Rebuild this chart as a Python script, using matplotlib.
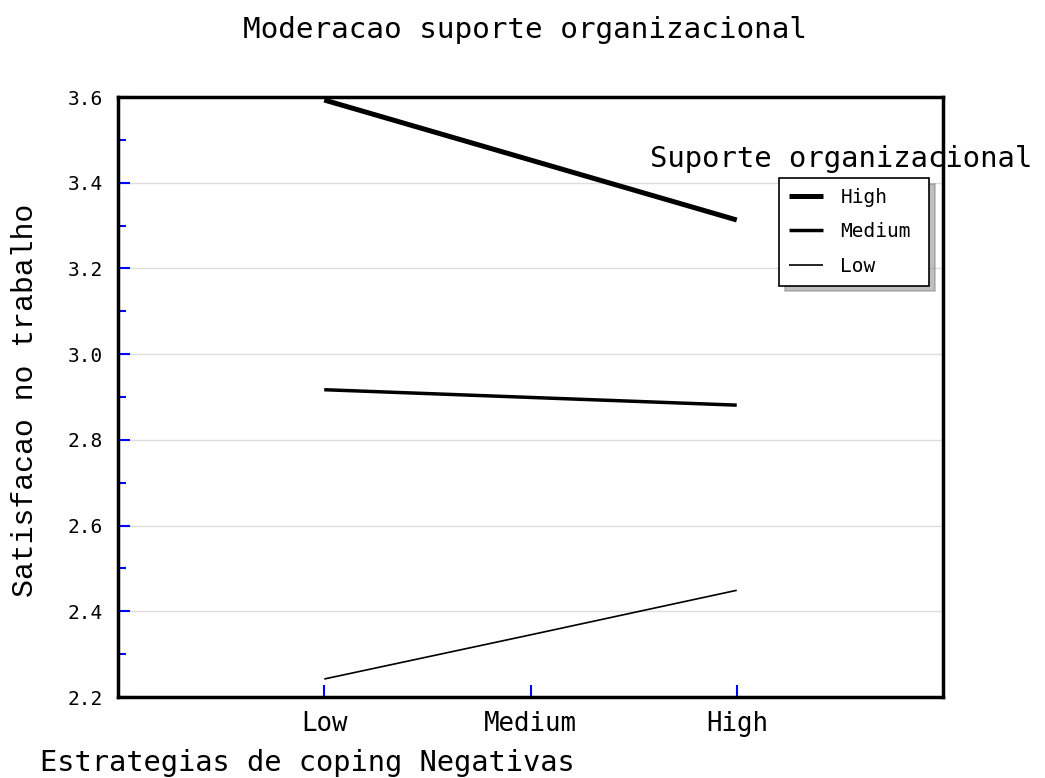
import matplotlib
matplotlib.use("Agg")
import matplotlib.pyplot as plt
from matplotlib.ticker import MultipleLocator

categories = ["Low", "Medium", "High"]
series_names = ["High", "Medium", "Low"]
high_vals = [3.593, 3.453, 3.313]
medium_vals = [2.917, 2.899, 2.881]
low_vals = [2.242, 2.345, 2.449]
y_ticks = [2.2, 2.4, 2.6, 2.8, 3.0, 3.2, 3.4, 3.6]

W, H = 1045, 778
fig = plt.figure(figsize=(W / 100, H / 100), dpi=100)
ax = fig.add_axes([118 / W, 1 - 697 / H, (943 - 118) / W, (697 - 97) / H])

xpos = [1, 2, 3]
widths = [3.6, 2.5, 1.2]
for name, vals, lw in zip(series_names, [high_vals, medium_vals, low_vals], widths):
    ax.plot(xpos, vals, color="black", lw=lw, label=name, solid_capstyle="butt", zorder=3)

ax.set_xlim(0, 4)
ax.set_ylim(2.2, 3.6)
ax.set_xticks(xpos)
ax.set_xticklabels(categories, family="DejaVu Sans Mono", fontsize=18.5)
ax.set_yticks(y_ticks)
ax.set_yticklabels([f"{v:.1f}" for v in y_ticks], family="DejaVu Sans Mono", fontsize=14)
ax.yaxis.set_minor_locator(MultipleLocator(0.1))
ax.tick_params(axis="both", which="major", direction="in", length=8.5, width=1.5,
               color="blue")
ax.tick_params(axis="x", which="major", pad=10)
ax.tick_params(axis="y", which="major", pad=11)
ax.tick_params(axis="y", which="minor", direction="in", length=5.5, width=1.5, color="blue")
ax.grid(axis="y", which="major", color="#dddddd", lw=1.0, zorder=0)
ax.set_axisbelow(True)
for s in ax.spines.values():
    s.set_linewidth(2.5)
    s.set_color("black")

fig.text(525 / W, 1 - 30 / H, "Moderacao suporte organizacional", ha="center", va="center",
         family="DejaVu Sans Mono", fontsize=21.2)
fig.text(40 / W, 1 - 763 / H, "Estrategias de coping Negativas", ha="left", va="center",
         family="DejaVu Sans Mono", fontsize=20.7)
fig.text(25 / W, 1 - 400 / H, "Satisfacao no trabalho", ha="center", va="center",
         rotation=90, family="Liberation Mono", fontsize=21.5)

ax.text(650 / W, 1 - 159 / H, "Suporte organizacional", transform=fig.transFigure,
        ha="left", va="center", family="DejaVu Sans Mono", fontsize=20.8,
        clip_on=False, zorder=2)

leg = ax.legend(loc="upper left",
                bbox_to_anchor=(779 / W, 1 - 289 / H, 150 / W, 111 / H),
                bbox_transform=fig.transFigure, borderaxespad=0, mode="expand",
                prop={"family": "DejaVu Sans Mono", "size": 14},
                frameon=True, fancybox=False, edgecolor="black", framealpha=1,
                shadow={"ox": 4, "oy": -4, "shade": 0.5},
                handlelength=1.75, handletextpad=0.9, labelspacing=0.8,
                borderpad=0.5)
leg.get_frame().set_linewidth(1.2)
for line in leg.get_lines():
    line.set_solid_capstyle("butt")
leg.set_zorder(5)

fig.savefig("out.png", dpi=100)
